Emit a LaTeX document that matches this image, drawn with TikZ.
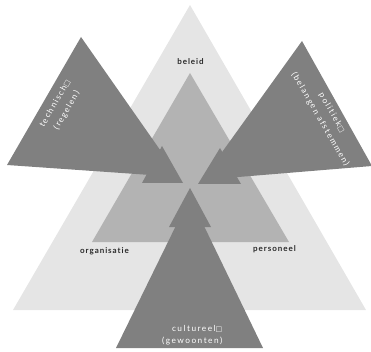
\documentclass[tikz,border=0pt]{standalone}
\usepackage{fontspec}
\setmainfont{Lato}
\newfontfamily\lblfont[LetterSpace=12,Ligatures=NoCommon]{Lato}
\newfontfamily\wfont[LetterSpace=18,Ligatures=NoCommon]{Lato}
\newfontfamily\symfont{DejaVu Sans}
\newcommand{\sqbox}{{\symfont\fontsize{7}{7}\selectfont □}}
\definecolor{lightg}{HTML}{E5E5E5}
\definecolor{midg}{HTML}{B3B3B3}
\definecolor{darkg}{HTML}{808080}
\definecolor{labelc}{HTML}{2A2A2A}
\begin{document}
\begin{tikzpicture}[x=1pt,y=-1pt,
  lbl/.style={font=\lblfont\fontsize{8}{10}\selectfont\bfseries, text=labelc, inner sep=0pt},
  wlbl/.style={font=\wfont\fontsize{8.3}{12.5}\selectfont, text=white, inner sep=0pt},
  rlbl/.style={wlbl, font=\wfont\fontsize{8.3}{13.5}\selectfont},
  lightshape/.style={fill=lightg},
  midshape/.style={fill=midg},
  darkshape/.style={fill=darkg}]
\useasboundingbox (0,0) rectangle (371,352);
% background triangles
\fill[lightshape] (190,5) -- (13,310) -- (366,310) -- cycle;
\fill[midshape] (190,73) -- (92,242) -- (289,242) -- cycle;
% labels on the triangles
\node[lbl, anchor=base] (beleid) at (190.5,65) {beleid};
\node[lbl, anchor=base] (org) at (104.5,253) {organisatie};
\node[lbl, anchor=base] (pers) at (274.5,251) {personeel};
% left arrow (technisch)
\fill[darkshape] (81,37) -- (7,165) -- (179,177) -- cycle;
\fill[darkshape] (162,146) -- (142,183) -- (183,183) -- cycle;
% right arrow (politiek)
\fill[darkshape] (302,41) -- (372,166) -- (202,180) -- cycle;
\fill[darkshape] (220,148) -- (198,184) -- (241,184) -- cycle;
% bottom arrow (cultureel)
\fill[darkshape] (190,197) -- (116,348) -- (263,348) -- cycle;
\fill[darkshape] (190,188) -- (169,227) -- (211,227) -- cycle;
% arrow texts
\node[rlbl, align=center, rotate=60] (tech) at (61,107) {technisch\sqbox\\(regelen)};
\node[rlbl, align=center, rotate=-60] (pol) at (326,116) {politiek\sqbox\\(belangen afstemmen)};
\node[wlbl, align=right, anchor=east] (cult) at (222.5,335) {cultureel\sqbox\\(gewoonten)};
\end{tikzpicture}
\end{document}
